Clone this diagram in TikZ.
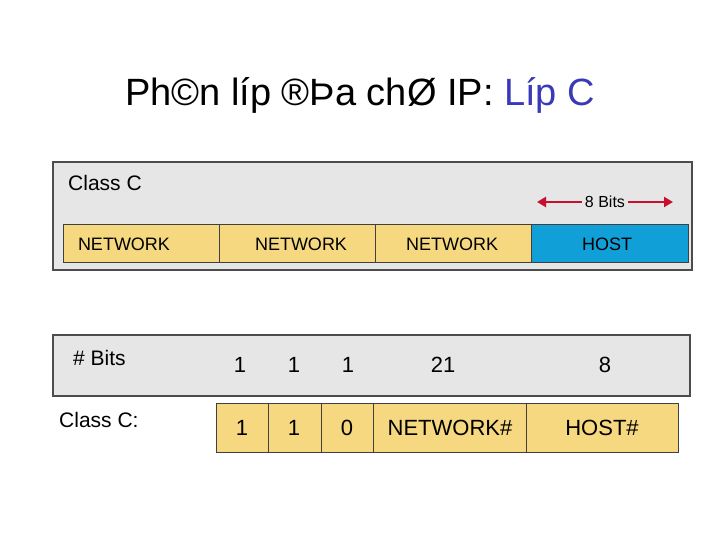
\documentclass[tikz,border=0pt]{standalone}
\usepackage{fontspec}
\setmainfont{Liberation Sans}
\usetikzlibrary{arrows.meta}
\definecolor{gbg}{HTML}{E6E6E6}
\definecolor{yel}{HTML}{F5D87F}
\definecolor{hostc}{HTML}{119FD8}
\definecolor{redc}{HTML}{C8102E}
\definecolor{titleblue}{HTML}{3A3AB8}
\tikzset{
 panel/.style={fill=gbg,draw=black!70,line width=1.2pt},
 cell/.style={fill=yel,draw=black!75,line width=1pt},
 hcell/.style={fill=hostc,draw=black!75,line width=1pt},
 lbl/.style={inner sep=0pt,font=\fontsize{18}{20}\selectfont},
 big/.style={inner sep=0pt,font=\fontsize{22}{24}\selectfont},
 redarr/.style={draw=redc,line width=2.2pt,-{Triangle[length=9pt,width=10pt]}}
}
\begin{document}
\begin{tikzpicture}[x=1pt,y=-1pt]
\useasboundingbox (0,0) rectangle (720,540);
\node[inner sep=0pt,font=\fontsize{38}{40}\selectfont] (title) at (360,95) {Ph©n líp ®Þa chØ IP: \textcolor{titleblue}{Líp C}};
% top panel
\draw[panel] (53,162) rectangle (692,270);
\node[lbl,anchor=west,font=\fontsize{21}{23}\selectfont] (cc) at (68,183) {Class C};
\draw[cell] (63,225) rectangle (219,262); \node[lbl] (n1) at (124,244) {NETWORK};
\draw[cell] (219,225) rectangle (375,262); \node[lbl] (n2) at (301,244) {NETWORK};
\draw[cell] (375,225) rectangle (531,262); \node[lbl] (n3) at (452,244) {NETWORK};
\draw[hcell] (531,225) rectangle (688,262); \node[lbl] (h) at (607,244) {HOST};
\node[lbl,font=\fontsize{16}{18}\selectfont] (eb) at (605,202) {8 Bits};
\coordinate (al) at (537,202); \coordinate (ar) at (673,202);
\draw[redarr] (eb.west) ++(-3,0) -- (al);
\draw[redarr] (eb.east) ++(3,0) -- (ar);
% bottom panel
\draw[panel] (53,335) rectangle (690,396);
\node[lbl,anchor=west,font=\fontsize{21}{23}\selectfont] (bits) at (73,358) {\# Bits};
\node[big] (b1) at (240,365) {1};
\node[big] (b2) at (294,365) {1};
\node[big] (b3) at (348,365) {1};
\node[big] (b4) at (443,365) {21};
\node[big] (b5) at (605,365) {8};
\node[lbl,anchor=west,font=\fontsize{21}{23}\selectfont] (cc2) at (59,420) {Class C:};
\draw[cell] (216,403) rectangle (268,452); \node[big] (c1) at (242,428) {1};
\draw[cell] (268,403) rectangle (321,452); \node[big] (c2) at (294,428) {1};
\draw[cell] (321,403) rectangle (373,452); \node[big] (c3) at (347,428) {0};
\draw[cell] (373,403) rectangle (526,452); \node[big] (c4) at (450,428) {NETWORK\#};
\draw[cell] (526,403) rectangle (678,452); \node[big] (c5) at (602,428) {HOST\#};
\end{tikzpicture}
\end{document}
